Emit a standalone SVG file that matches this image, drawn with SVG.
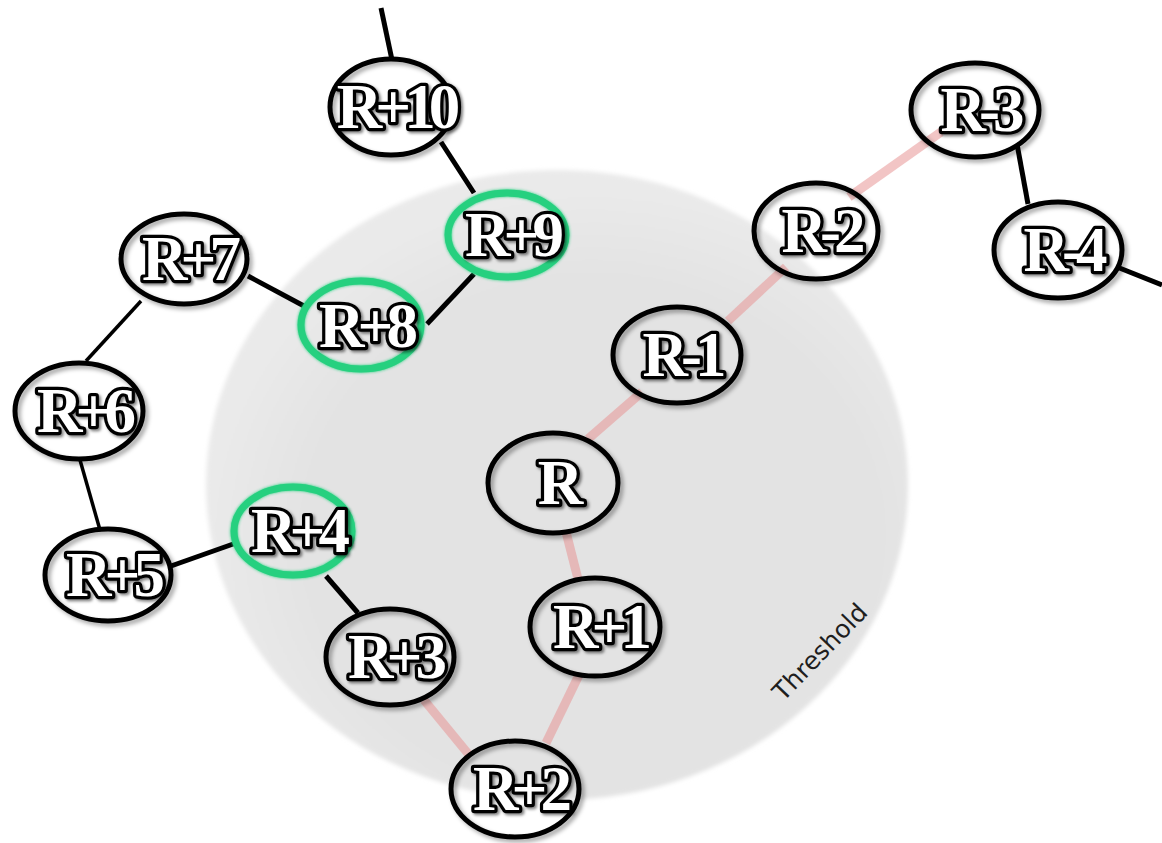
<svg xmlns="http://www.w3.org/2000/svg" width="1162" height="843" viewBox="0 0 1162 843">
  <style>
    .node { fill: none; stroke: #000; stroke-width: 5; }
    .hl { stroke: #26d07f; stroke-width: 7; }
    .lbl { font-family: "Liberation Serif", "Times New Roman", serif; font-weight: bold; font-size: 63px; letter-spacing: -7px; fill: #fff; stroke: #000; stroke-width: 6.5; stroke-linejoin: round; paint-order: stroke; text-anchor: middle; }
    .blk { stroke: #000; stroke-width: 5; stroke-linecap: butt; fill: none; }
    .thin { stroke-width: 3.5; }
    .pink { stroke: #e79595; stroke-opacity: 0.55; stroke-width: 9; fill: none; }
    .thr { font-family: "DejaVu Sans", "Liberation Sans", sans-serif; font-size: 25px; fill: #1e1e1e; }
  </style>
  <defs>
    <filter id="soft" x="-5%" y="-5%" width="110%" height="110%">
      <feGaussianBlur stdDeviation="2"/>
    </filter>
    <filter id="shadow" x="-20%" y="-20%" width="140%" height="140%">
      <feDropShadow dx="3" dy="3" stdDeviation="2" flood-color="#000" flood-opacity="0.35"/>
    </filter>
    <filter id="tshadow" x="-20%" y="-20%" width="140%" height="140%">
      <feDropShadow dx="2" dy="2" stdDeviation="1.5" flood-color="#000" flood-opacity="0.5"/>
    </filter>
    <filter id="glow" x="-20%" y="-20%" width="140%" height="140%">
      <feGaussianBlur in="SourceGraphic" stdDeviation="1.5" result="b"/>
      <feMerge><feMergeNode in="b"/><feMergeNode in="SourceGraphic"/></feMerge>
    </filter>
    <radialGradient id="thrGrad" cx="0.55" cy="0.58" r="0.55">
      <stop offset="0.75" stop-color="#e3e3e3"/>
      <stop offset="1" stop-color="#eaeaea"/>
    </radialGradient>
    <linearGradient id="hlFill" x1="0" y1="0" x2="0" y2="1">
      <stop offset="0" stop-color="#ececec" stop-opacity="0.6"/>
      <stop offset="0.5" stop-color="#d0d0d0" stop-opacity="0.7"/>
      <stop offset="1" stop-color="#9a9a9a" stop-opacity="0.9"/>
    </linearGradient>
  </defs>

  <rect width="1162" height="843" fill="#fff"/>

  <g id="threshold">
    <ellipse cx="557" cy="485" rx="351" ry="315" fill="url(#thrGrad)" filter="url(#soft)"/>
    <text class="thr" transform="translate(820 652) rotate(-46)" text-anchor="middle" dominant-baseline="central">Threshold</text>
  </g>

  <g id="connectors">
    <line class="blk" x1="381" y1="8" x2="392" y2="60"/>
    <line class="blk" x1="441" y1="142" x2="474" y2="193"/>
    <line class="blk" x1="474" y1="274" x2="427" y2="324"/>
    <line class="blk" x1="248" y1="276" x2="304" y2="306"/>
    <line class="blk thin" x1="141" y1="301" x2="86" y2="361"/>
    <line class="blk thin" x1="80" y1="460" x2="100" y2="530"/>
    <line class="blk" x1="171" y1="566" x2="236" y2="543"/>
    <line class="blk" x1="326" y1="576" x2="358" y2="613"/>
    <line class="pink" x1="424" y1="700" x2="470" y2="756"/>
    <line class="pink" x1="546" y1="743" x2="579" y2="675"/>
    <line class="pink" x1="566" y1="532" x2="578" y2="579"/>
    <line class="pink" x1="588" y1="439" x2="642" y2="392"/>
    <line class="pink" x1="728" y1="321" x2="786" y2="267"/>
    <line class="pink" x1="849" y1="197" x2="941" y2="132"/>
    <line class="blk" x1="1017" y1="144" x2="1028" y2="204"/>
    <line class="blk" x1="1117" y1="267" x2="1162" y2="285"/>
  </g>

  <g id="n-r10">
    <ellipse class="node" cx="391" cy="107" rx="61" ry="48" filter="url(#shadow)"/>
    <text class="lbl" x="395" y="128" filter="url(#tshadow)">R+10</text>
  </g>
  <g id="n-r9">
    <ellipse class="node hl" cx="507" cy="235" rx="59" ry="42" fill="url(#hlFill)" filter="url(#glow)"/>
    <text class="lbl" x="511" y="256" filter="url(#tshadow)">R+9</text>
  </g>
  <g id="n-r8">
    <ellipse class="node hl" cx="361" cy="325" rx="60" ry="44" fill="url(#hlFill)" filter="url(#glow)"/>
    <text class="lbl" x="365" y="347" filter="url(#tshadow)">R+8</text>
  </g>
  <g id="n-r7">
    <ellipse class="node" cx="184" cy="259" rx="63" ry="45" filter="url(#shadow)"/>
    <text class="lbl" x="188" y="280" filter="url(#tshadow)">R+7</text>
  </g>
  <g id="n-r6">
    <ellipse class="node" cx="79" cy="411" rx="64" ry="48" filter="url(#shadow)"/>
    <text class="lbl" x="83" y="432" filter="url(#tshadow)">R+6</text>
  </g>
  <g id="n-r5">
    <ellipse class="node" cx="108" cy="575" rx="63" ry="46" filter="url(#shadow)"/>
    <text class="lbl" x="112" y="596" filter="url(#tshadow)">R+5</text>
  </g>
  <g id="n-r4">
    <ellipse class="node hl" cx="293" cy="531" rx="59" ry="44" fill="url(#hlFill)" filter="url(#glow)"/>
    <text class="lbl" x="297" y="552" filter="url(#tshadow)">R+4</text>
  </g>
  <g id="n-r3">
    <ellipse class="node" cx="390" cy="657" rx="64" ry="48" filter="url(#shadow)"/>
    <text class="lbl" x="394" y="678" filter="url(#tshadow)">R+3</text>
  </g>
  <g id="n-r2">
    <ellipse class="node" cx="515" cy="789" rx="64" ry="48" filter="url(#shadow)"/>
    <text class="lbl" x="519" y="810" filter="url(#tshadow)">R+2</text>
  </g>
  <g id="n-r1">
    <ellipse class="node" cx="595" cy="627" rx="65" ry="49" filter="url(#shadow)"/>
    <text class="lbl" x="599" y="648" filter="url(#tshadow)">R+1</text>
  </g>
  <g id="n-r">
    <ellipse class="node" cx="553" cy="483" rx="65" ry="50" filter="url(#shadow)"/>
    <text class="lbl" x="557" y="504" filter="url(#tshadow)">R</text>
  </g>
  <g id="n-rm1">
    <ellipse class="node" cx="677" cy="355" rx="64" ry="48" filter="url(#shadow)"/>
    <text class="lbl" x="681" y="376" filter="url(#tshadow)">R-1</text>
  </g>
  <g id="n-rm2">
    <ellipse class="node" cx="816" cy="231" rx="62" ry="48" filter="url(#shadow)"/>
    <text class="lbl" x="820" y="252" filter="url(#tshadow)">R-2</text>
  </g>
  <g id="n-rm3">
    <ellipse class="node" cx="975" cy="110" rx="64" ry="47" filter="url(#shadow)"/>
    <text class="lbl" x="979" y="131" filter="url(#tshadow)">R-3</text>
  </g>
  <g id="n-rm4">
    <ellipse class="node" cx="1058" cy="250" rx="64" ry="48" filter="url(#shadow)"/>
    <text class="lbl" x="1062" y="271" filter="url(#tshadow)">R-4</text>
  </g>
</svg>
